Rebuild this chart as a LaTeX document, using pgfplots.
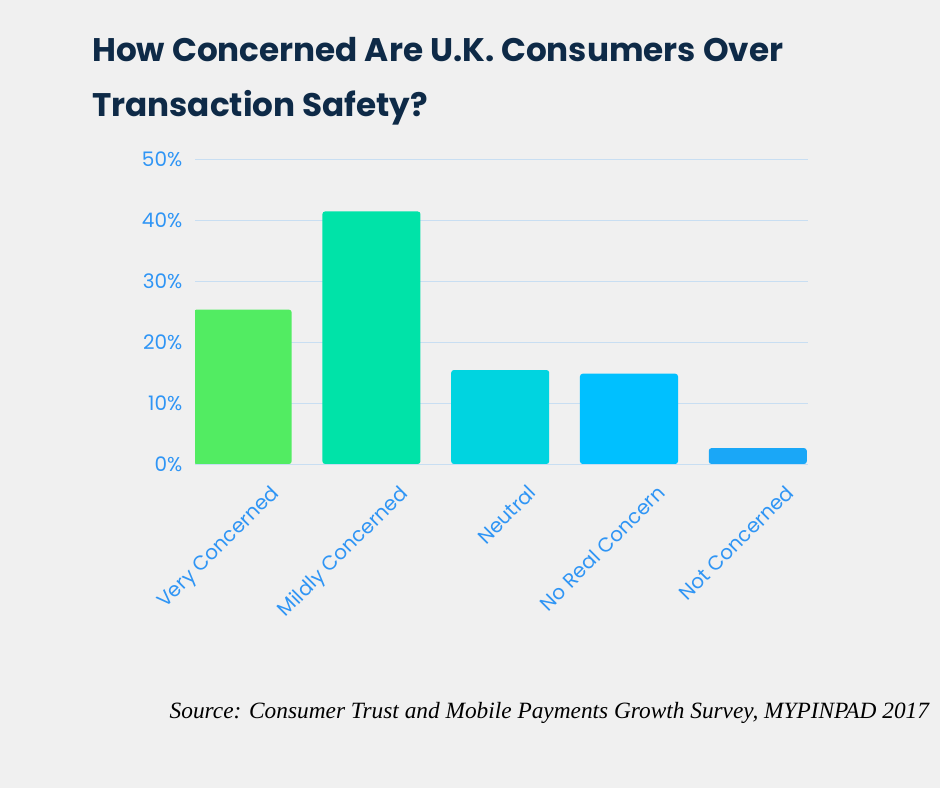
\documentclass[border=0pt]{standalone}
\usepackage{pgfplots}
\pgfplotsset{compat=1.18}
\usepackage{fontspec}
\setmainfont{Liberation Serif}
\newfontfamily\pop{Poppins}
\definecolor{bgc}{HTML}{F0F0F0}
\definecolor{ttl}{HTML}{0E2A47}
\definecolor{tk}{HTML}{2F95F5}
\definecolor{grd}{HTML}{C8DEF2}
\definecolor{c1}{HTML}{52EC62}
\definecolor{c2}{HTML}{00E3A8}
\definecolor{c3}{HTML}{00D4E0}
\definecolor{c4}{HTML}{00C0FF}
\definecolor{c5}{HTML}{1AA7F7}
\begin{document}
\begin{tikzpicture}
\fill[bgc] (0,0) rectangle (705pt,591pt);
\node[anchor=north west,text=ttl,font=\pop\bfseries\fontsize{24.5}{41}\selectfont,align=left,inner sep=0] at (69pt,563pt) {How Concerned Are U.K. Consumers Over\\Transaction Safety?};
\node[anchor=base east,font=\itshape\fontsize{17.5}{20}\selectfont,inner sep=0] at (697pt,52pt) {Source: Consumer Trust and Mobile Payments Growth Survey, MYPINPAD 2017};
\begin{axis}[at={(146.25pt,243pt)},anchor=south west,scale only axis,width=459.75pt,height=228.75pt,
 xmin=-0.37,xmax=4.39,ymin=0,ymax=50,axis line style={draw=none},
 ytick={0,10,...,50},yticklabel={\pgfmathprintnumber{\tick}\%},
 /pgf/number format/assume math mode=true,
 ymajorgrids,grid style={grd},major tick length=0,
 xtick={0,1,2,3,4},xticklabels={Very Concerned,Mildly Concerned,Neutral,No Real Concern,Not Concerned},
 xticklabel style={xshift=20pt,yshift=-10pt,rotate=45,anchor=north east},
 ticklabel style={font=\pop\fontsize{15}{18}\selectfont,text=tk},
 yticklabel style={xshift=-6pt},
 ]
\addplot[ybar,bar width=73.5pt,draw=none,fill=c1,rounded corners=2pt] coordinates {(0,25.3)};
\addplot[ybar,bar width=73.5pt,draw=none,fill=c2,rounded corners=2pt] coordinates {(1,41.4)};
\addplot[ybar,bar width=73.5pt,draw=none,fill=c3,rounded corners=2pt] coordinates {(2,15.4)};
\addplot[ybar,bar width=73.5pt,draw=none,fill=c4,rounded corners=2pt] coordinates {(3,14.8)};
\addplot[ybar,bar width=73.5pt,draw=none,fill=c5,rounded corners=2pt] coordinates {(4,2.6)};
\end{axis}
\end{tikzpicture}
\end{document}
